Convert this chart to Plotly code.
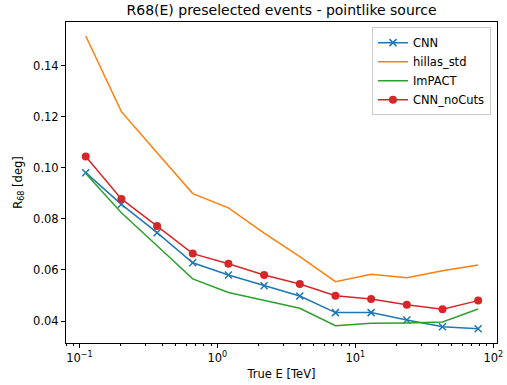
import plotly.graph_objects as go

energy = [0.1112, 0.2016, 0.3658, 0.6633, 1.203, 2.183, 3.959, 7.18, 13.02, 23.63, 42.85, 77.7]
cnn = [0.0981, 0.0857, 0.0746, 0.0628, 0.0580, 0.0538, 0.0498, 0.0433, 0.0433, 0.0404, 0.0378, 0.0370]
hillas_std = [0.1516, 0.1220, 0.1059, 0.0899, 0.0843, 0.0744, 0.0652, 0.0554, 0.0583, 0.0570, 0.0597, 0.0619]
impact = [0.0978, 0.0824, 0.0695, 0.0565, 0.0512, 0.0480, 0.0450, 0.0382, 0.0391, 0.0392, 0.0396, 0.0447]
cnn_nocuts = [0.1044, 0.0878, 0.0772, 0.0664, 0.0624, 0.0580, 0.0545, 0.0499, 0.0486, 0.0464, 0.0446, 0.0480]

xtick_vals = [0.1, 1, 10, 100]
xtick_text = ["10<sup>\u22121</sup>", "10<sup>0</sup>", "10<sup>1</sup>", "10<sup>2</sup>"]
xminor_vals = [0.08, 0.09] + [m * 0.1 for m in range(2, 10)] + [m * 1.0 for m in range(2, 10)] + [m * 10.0 for m in range(2, 10)]
ytick_vals = [0.04, 0.06, 0.08, 0.10, 0.12, 0.14]
ytick_text = ["0.04", "0.06", "0.08", "0.10", "0.12", "0.14"]

fig = go.Figure()
fig.add_trace(go.Scatter(x=energy, y=cnn, name="CNN", mode="lines+markers",
                         line=dict(color="#1f77b4", width=1.5),
                         marker=dict(symbol="x-thin", size=7, line=dict(color="#1f77b4", width=1.5))))
fig.add_trace(go.Scatter(x=energy, y=hillas_std, name="hillas_std", mode="lines",
                         line=dict(color="#ff7f0e", width=1.5)))
fig.add_trace(go.Scatter(x=energy, y=impact, name="ImPACT", mode="lines",
                         line=dict(color="#2ca02c", width=1.5)))
fig.add_trace(go.Scatter(x=energy, y=cnn_nocuts, name="CNN_noCuts", mode="lines+markers",
                         line=dict(color="#d62728", width=1.5),
                         marker=dict(symbol="circle", size=8, color="#d62728")))

fig.update_layout(
    width=507, height=385,
    margin=dict(l=66, r=10, t=22, b=42),
    paper_bgcolor="white", plot_bgcolor="white",
    font=dict(family="DejaVu Sans", size=11.5, color="#000000"),
    title=dict(text="R68(E) preselected events - pointlike source", x=0.5553, xanchor="center",
               y=1 - 10 / 385, yanchor="middle", yref="container",
               font=dict(size=14, color="#000000")),
    showlegend=True,
    legend=dict(x=0.986, y=0.984, xanchor="right", yanchor="top",
                bgcolor="rgba(255,255,255,0.8)", bordercolor="#cccccc", borderwidth=1,
                font=dict(size=11.5), tracegroupgap=0, itemwidth=30),
    xaxis=dict(type="log", range=[-1.097, 2.027], automargin=False,
               tickmode="array", tickvals=xtick_vals, ticktext=xtick_text,
               ticks="outside", ticklen=4, tickwidth=1, tickcolor="black",
               minor=dict(tickmode="array", tickvals=xminor_vals, ticks="outside", ticklen=2, tickwidth=0.8, tickcolor="black", showgrid=False),
               showline=True, linecolor="black", linewidth=1, mirror=True,
               showgrid=False, zeroline=False,
               title=dict(text="True E [TeV]", standoff=6, font=dict(size=11.5))),
    yaxis=dict(range=[0.0314, 0.1571], automargin=False,
               tickmode="array", tickvals=ytick_vals, ticktext=ytick_text,
               ticks="outside", ticklen=4, tickwidth=1, tickcolor="black",
               showline=True, linecolor="black", linewidth=1, mirror=True,
               showgrid=False, zeroline=False,
               title=dict(text="R<sub>68</sub> [deg]", standoff=8, font=dict(size=11.5))),
)

fig.write_html("out.html")
